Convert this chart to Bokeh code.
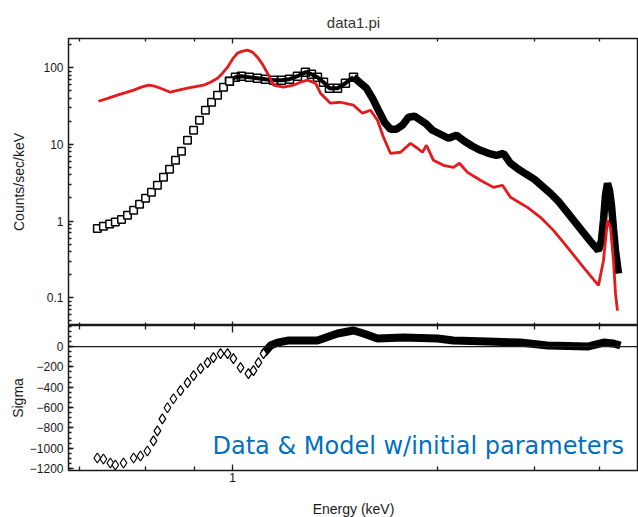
from bokeh.plotting import figure
from bokeh.layouts import column
from bokeh.models import FixedTicker, LogAxis, Span, Label, Range1d
from bokeh.embed import file_html
from bokeh.resources import INLINE

# ---------------- text ----------------
title_text = "data1.pi"
x_label = "Energy (keV)"
y_label_top = "Counts/sec/keV"
y_label_bottom = "Sigma"
annotation_text = "Data & Model w/initial parameters"

# ---------------- data ----------------
data_energy = [0.485, 0.501, 0.518, 0.534, 0.552, 0.570, 0.589, 0.608, 0.628, 0.648,
               0.669, 0.691, 0.714, 0.737, 0.761, 0.786, 0.812, 0.838, 0.865, 0.894,
               0.923, 0.953, 0.984, 1.016, 1.049, 1.095, 1.143, 1.193, 1.246, 1.300,
               1.357, 1.416, 1.478, 1.526, 1.576, 1.628, 1.681, 1.755, 1.831, 1.912,
               1.985, 2.049, 2.116, 2.185, 2.257, 2.330, 2.407, 2.485, 2.566, 2.650,
               2.737, 2.826, 2.918, 3.046, 3.179, 3.319, 3.464, 3.615, 3.773, 3.939,
               4.111, 4.268, 4.431, 4.625, 4.827, 5.039, 5.260, 5.490, 5.730, 5.981,
               6.242, 6.515, 6.801, 7.098, 7.213, 7.291, 7.370, 7.449, 7.529, 7.610,
               7.692, 7.775, 7.901]
data_counts = [0.803, 0.853, 0.919, 0.976, 1.052, 1.187, 1.379, 1.652, 1.978, 2.370,
               2.925, 3.720, 4.731, 6.201, 8.126, 11.31, 15.28, 20.64, 27.87, 35.44,
               43.75, 55.65, 66.65, 75.16, 77.45, 75.16, 72.94, 70.78, 68.68, 68.68,
               70.78, 77.45, 87.35, 82.25, 75.16, 64.66, 54.00, 54.00, 62.75, 75.16,
               62.75, 54.00, 39.99, 27.87, 19.43, 15.75, 15.75, 17.76, 22.59, 23.27,
               20.64, 18.30, 15.28, 13.55, 12.01, 13.15, 10.98, 9.445, 8.375, 7.652,
               7.204, 7.652, 5.665, 4.731, 4.071, 3.503, 2.838, 2.299, 1.807, 1.339,
               0.991, 0.734, 0.543, 0.4145, 0.560, 1.021, 2.165, 3.106, 2.517, 1.603,
               0.803, 0.4145, 0.2076]

model_energy = [0.488, 0.515, 0.540, 0.564, 0.589, 0.614, 0.638, 0.659, 0.680, 0.717,
                0.749, 0.786, 0.820, 0.856, 0.889, 0.923, 0.948, 0.974, 1.000, 1.027,
                1.055, 1.084, 1.113, 1.143, 1.174, 1.206, 1.246, 1.314, 1.386, 1.439,
                1.494, 1.560, 1.602, 1.690, 1.783, 1.912, 2.006, 2.094, 2.174, 2.245,
                2.330, 2.459, 2.594, 2.693, 2.766, 2.826, 2.934, 3.095, 3.265, 3.372,
                3.520, 3.773, 4.046, 4.245, 4.431, 4.853, 5.203, 5.578, 6.013, 6.551,
                7.098, 7.291, 7.449, 7.569, 7.692, 7.775, 7.859]
model_counts = [36.5, 40.0, 43.8, 47.2, 50.9, 55.7, 59.1, 57.3, 54.0, 47.9,
                50.9, 54.0, 56.5, 59.1, 64.7, 72.9, 84.8, 101.5, 129.1, 154.6,
                164.2, 169.3, 159.4, 137.1, 111.1, 84.8, 59.1, 55.7, 59.1, 64.7,
                68.7, 62.8, 46.5, 34.4, 35.4, 32.4, 25.5, 27.9, 20.6, 12.4,
                7.65, 7.89, 10.3, 8.90, 7.89, 9.73, 6.20, 5.34, 5.02, 5.67,
                4.32, 3.40, 2.75, 2.93, 2.04, 1.51, 1.12, 0.756, 0.454, 0.249,
                0.145, 0.307, 1.02, 0.827, 0.307, 0.114, 0.068]

sigma_energy = [0.485, 0.501, 0.520, 0.534, 0.558, 0.589, 0.611, 0.634, 0.655, 0.669,
                0.687, 0.706, 0.729, 0.757, 0.786, 0.812, 0.843, 0.875, 0.903, 0.938,
                0.974, 1.005, 1.044, 1.089, 1.119, 1.149, 1.181, 1.226, 1.272, 1.343,
                1.439, 1.576, 1.755, 1.912, 2.017, 2.174, 2.498, 2.997, 3.265, 3.918,
                4.675, 5.402, 6.693, 7.291, 7.692, 7.986]
sigma_values = [-1096, -1106, -1145, -1165, -1145, -1096, -1076, -1027, -928, -829,
                -711, -602, -513, -434, -355, -286, -217, -158, -109, -69,
                -69, -118, -207, -267, -237, -158, -69, 10, 39, 59,
                59, 59, 128, 158, 128, 79, 89, 79, 59, 49,
                39, 10, 0, 39, 30, 10]

# ---------------- ticks ----------------
x_major_ticks = [1]
x_minor_ticks = [0.44, 0.627, 0.816, 3.0, 5.04, 7.14]
count_major_ticks = [0.1, 1, 10, 100]
count_labels = {0.1: "0.1", 1: "1", 10: "10", 100: "100"}
sigma_major_ticks = [-1200, -1000, -800, -600, -400, -200, 0]

x_range = (0.4156, 8.795)
count_range = (0.0435, 240)
sigma_range = (-1219, 207)

FONT = "Liberation Sans"
INK = "#1a1a1a"
RED = "#e41a1c"


def style_x_axis(axis, major_in, minor_in, show_labels):
    axis.ticker = FixedTicker(ticks=x_major_ticks, minor_ticks=x_minor_ticks)
    axis.major_tick_in = major_in
    axis.major_tick_out = 0
    axis.minor_tick_in = minor_in
    axis.minor_tick_out = 0
    axis.major_tick_line_color = INK
    axis.minor_tick_line_color = INK
    axis.major_tick_line_width = 1.3
    axis.minor_tick_line_width = 1.3
    axis.axis_line_color = None
    axis.major_label_overrides = {1: "1"}
    axis.major_label_text_font = FONT
    if show_labels:
        axis.major_label_text_font_size = "12px"
        axis.major_label_text_color = "#111111"
        axis.major_label_standoff = 2
    else:
        axis.major_label_text_font_size = "1px"
        axis.major_label_text_alpha = 0
        axis.major_label_standoff = 0


# ---------------- top panel ----------------
p1 = figure(frame_width=570, frame_height=287, x_axis_type="log", y_axis_type="log",
            x_axis_location="above",
            x_range=Range1d(*x_range), y_range=Range1d(*count_range),
            min_border_left=68, min_border_right=0, min_border_top=38, min_border_bottom=0,
            toolbar_location=None, output_backend="svg")
p1.title.text = title_text
p1.title.align = "center"
p1.title.text_font = FONT
p1.title.text_font_size = "15px"
p1.title.text_font_style = "normal"
p1.title.text_color = "#333333"
p1.title.standoff = 16
p1.grid.visible = False
p1.outline_line_color = INK
p1.outline_line_width = 1.5
p1.background_fill_color = "white"
p1.border_fill_color = "white"

style_x_axis(p1.xaxis[0], 5, 3, False)
bottom_ticks = LogAxis()
style_x_axis(bottom_ticks, 4, 3, False)
p1.add_layout(bottom_ticks, "below")

ya = p1.yaxis[0]
ya.ticker = FixedTicker(ticks=count_major_ticks,
                        minor_ticks=[m * 10.0 ** k for k in range(-2, 3) for m in range(2, 10)])
ya.major_label_overrides = count_labels
ya.major_tick_in = 5
ya.major_tick_out = 0
ya.minor_tick_in = 3
ya.minor_tick_out = 0
ya.major_tick_line_color = INK
ya.minor_tick_line_color = INK
ya.major_tick_line_width = 1.3
ya.minor_tick_line_width = 1.3
ya.axis_line_color = None
ya.major_label_text_font = FONT
ya.major_label_text_font_size = "12px"
ya.major_label_text_color = INK
ya.major_label_standoff = 5
ya.axis_label = y_label_top
ya.axis_label_text_font = FONT
ya.axis_label_text_font_size = "14px"
ya.axis_label_text_font_style = "normal"
ya.axis_label_text_color = INK
ya.axis_label_standoff = 13

low = [i for i, e in enumerate(data_energy) if e < 1.0]
mid = [i for i, e in enumerate(data_energy) if 0.98 <= e < 1.95]
dense = [i for i, e in enumerate(data_energy) if e >= 1.9]
p1.line([data_energy[i] for i in mid], [data_counts[i] for i in mid],
        line_color="black", line_width=4)
p1.line([data_energy[i] for i in dense], [data_counts[i] for i in dense],
        line_color="black", line_width=7.5)
p1.scatter([data_energy[i] for i in mid], [data_counts[i] for i in mid],
           marker="square", size=8, fill_color=None, line_color="black", line_width=1.5)
p1.scatter([data_energy[i] for i in low], [data_counts[i] for i in low],
           marker="square", size=7.5, fill_color="white", line_color="black", line_width=1.5)
p1.line(model_energy, model_counts, line_color=RED, line_width=2.8)

# ---------------- bottom panel ----------------
p2 = figure(frame_width=570, frame_height=145, x_axis_type="log",
            x_range=p1.x_range, y_range=Range1d(*sigma_range),
            min_border_left=68, min_border_right=0, min_border_top=0, min_border_bottom=10,
            toolbar_location=None, output_backend="svg")
p2.grid.visible = False
p2.outline_line_color = INK
p2.outline_line_width = 1.5
p2.background_fill_color = "white"
p2.border_fill_color = "white"

xb = p2.xaxis[0]
style_x_axis(xb, 6, 4, True)
xb.axis_label = x_label
xb.axis_label_text_font = FONT
xb.axis_label_text_font_size = "14px"
xb.axis_label_text_font_style = "normal"
xb.axis_label_text_color = INK
xb.axis_label_standoff = 16

top_ticks = LogAxis()
style_x_axis(top_ticks, 7, 4, False)
p2.add_layout(top_ticks, "above")

yb = p2.yaxis[0]
yb.ticker = FixedTicker(ticks=sigma_major_ticks,
                        minor_ticks=[v for v in range(-1200, 201, 50)])
yb.major_label_overrides = {v: ("\u2212" + str(-v) if v < 0 else str(v)) for v in sigma_major_ticks}
yb.major_tick_in = 5
yb.major_tick_out = 0
yb.minor_tick_in = 3
yb.minor_tick_out = 0
yb.major_tick_line_color = INK
yb.minor_tick_line_color = INK
yb.major_tick_line_width = 1.3
yb.minor_tick_line_width = 1.3
yb.axis_line_color = None
yb.major_label_text_font = FONT
yb.major_label_text_font_size = "12px"
yb.major_label_text_color = INK
yb.major_label_standoff = 5
yb.axis_label = y_label_bottom
yb.axis_label_text_font = FONT
yb.axis_label_text_font_size = "14px"
yb.axis_label_text_font_style = "normal"
yb.axis_label_text_color = INK
yb.axis_label_standoff = 1

p2.add_layout(Span(location=0, dimension="width", line_color=INK, line_width=1.3))

s_low = [i for i, e in enumerate(sigma_energy) if e < 1.2]
s_dense = [i for i, e in enumerate(sigma_energy) if e >= 1.18]
p2.line([sigma_energy[i] for i in s_dense], [sigma_values[i] for i in s_dense],
        line_color="black", line_width=8)
p2.scatter([sigma_energy[i] for i in s_low], [sigma_values[i] for i in s_low],
           marker="diamond", size=10, fill_color="white", line_color="black", line_width=1.2)

p2.add_layout(Label(x=0.8985, y=-975, text=annotation_text,
                    text_font="DejaVu Sans", text_font_size="24px",
                    text_color="#0070c0", text_baseline="alphabetic"))

layout = column(p1, p2, spacing=0)
open("out.html", "w").write(file_html(layout, INLINE))
